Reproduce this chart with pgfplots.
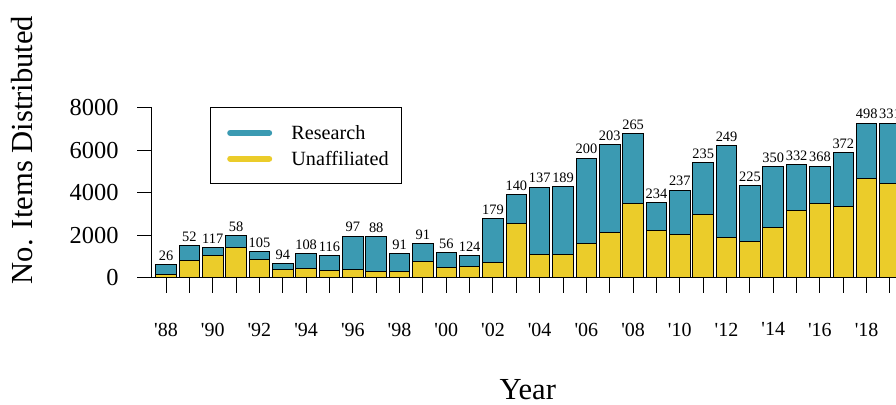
\documentclass[border=0pt]{standalone}
\usepackage{fontspec}
\setmainfont{Liberation Serif}
\usepackage{pgfplots}
\usepackage{pgfplotstable}
\pgfplotsset{compat=1.18}
\definecolor{zteal}{HTML}{3B9AB2}
\definecolor{zyellow}{HTML}{EBCC2A}
\newcommand{\q}{\textquotesingle}
% unaff = Unaffiliated, research = Research, total = unaff + research, lab = count above bar
\pgfplotstableread{
year unaff research total lab
1988 157 469 626 26
1989 814 706 1520 52
1990 1050 362 1412 117
1991 1412 564 1976 58
1992 861 363 1224 105
1993 392 267 659 94
1994 452 677 1129 108
1995 345 705 1050 116
1996 392 1566 1958 97
1997 311 1618 1929 88
1998 282 847 1129 91
1999 753 847 1600 91
2000 500 690 1190 56
2001 518 532 1050 124
2002 735 2055 2790 179
2003 2541 1365 3906 140
2004 1082 3182 4264 137
2005 1111 3186 4297 189
2006 1628 4001 5629 200
2007 2118 4155 6273 203
2008 3482 3309 6791 265
2009 2240 1289 3529 234
2010 2038 2084 4122 237
2011 2979 2433 5412 235
2012 1911 4315 6226 249
2013 1694 2636 4330 225
2014 2367 2857 5224 350
2015 3153 2165 5318 332
2016 3482 1770 5252 368
2017 3355 2542 5897 372
2018 4659 2617 7276 498
2019 4423 2853 7276 331
}\datatable
\begin{document}
\begin{tikzpicture}
\begin{axis}[
  at={(76pt,63.15pt)}, anchor=south west,
  scale only axis, width=372pt, height=85pt,
  xmin=1987.40, xmax=2019.255, ymin=0, ymax=8000,
  clip=false,
  ybar, bar width=0.88, bar shift=0pt,
  axis lines*=left,
  axis line style={-, line width=0.5pt, black},
  tick align=outside, major tick length=7.5pt,
  tick style={black, line width=0.5pt},
  xtick={1988,...,2019},
  xticklabels={\q88,,\q90,,\q92,,\q94,,\q96,,\q98,,\q00,,\q02,,\q04,,\q06,,\q08,,\q10,,\q12,,\q14,,\q16,,\q18,},
  xticklabel style={font=\fontsize{10}{12}\selectfont, yshift=-11.5pt},
  ytick={0,2000,4000,6000,8000},
  yticklabel style={font=\fontsize{12.2}{14}\selectfont, xshift=-5.7pt},
  /pgf/number format/1000 sep={},
  /pgf/number format/assume math mode=true,
  xlabel={Year},
  ylabel={No. Items Distributed},
  xlabel style={font=\fontsize{15.3}{18}\selectfont, at={(axis description cs:0.5051,-0.6576)}, anchor=center},
  ylabel style={font=\fontsize{15.3}{18}\selectfont, at={(axis description cs:-0.1747,0.7512)}, anchor=center},
  legend style={at={(axis description cs:0.07796,1.0024)}, anchor=north west,
    draw=black, line width=0.5pt, fill=white,
    font=\fontsize{10.1}{12}\selectfont,
    inner xsep=6.65pt, inner ysep=9.1pt, row sep=5.95pt, column sep=9.6pt,
    nodes={inner sep=0pt, text height=6.9pt, text depth=0pt},
    cells={anchor=west}},
]
\addlegendimage{legend image code/.code={\path[draw=none,fill=none] (0pt,-3.45pt) rectangle (22.7pt,3.45pt); \draw[line width=3pt, line cap=round, draw=zteal] (3.2pt,0pt) -- (22.7pt,0pt);}}
\addlegendentry{Research}
\addlegendimage{legend image code/.code={\path[draw=none,fill=none] (0pt,-3.45pt) rectangle (22.7pt,3.45pt); \draw[line width=3pt, line cap=round, draw=zyellow] (3.2pt,0pt) -- (22.7pt,0pt);}}
\addlegendentry{Unaffiliated}
% Research stacked on top of Unaffiliated: the full bar is the total
\addplot[fill=zteal, draw=black, line width=0.5pt, forget plot,
  point meta=explicit symbolic,
  nodes near coords,
  every node near coord/.append style={font=\fontsize{7.2}{8}\selectfont, inner sep=1.8pt, black, anchor=south}]
  table[x=year, y=total, meta=lab] {\datatable};
\addplot[fill=zyellow, draw=black, line width=0.5pt, forget plot] table[x=year, y=unaff] {\datatable};
\end{axis}
\pgfresetboundingbox
\path[use as bounding box] (0pt,0pt) rectangle (448pt,202pt);
\end{tikzpicture}
\end{document}
